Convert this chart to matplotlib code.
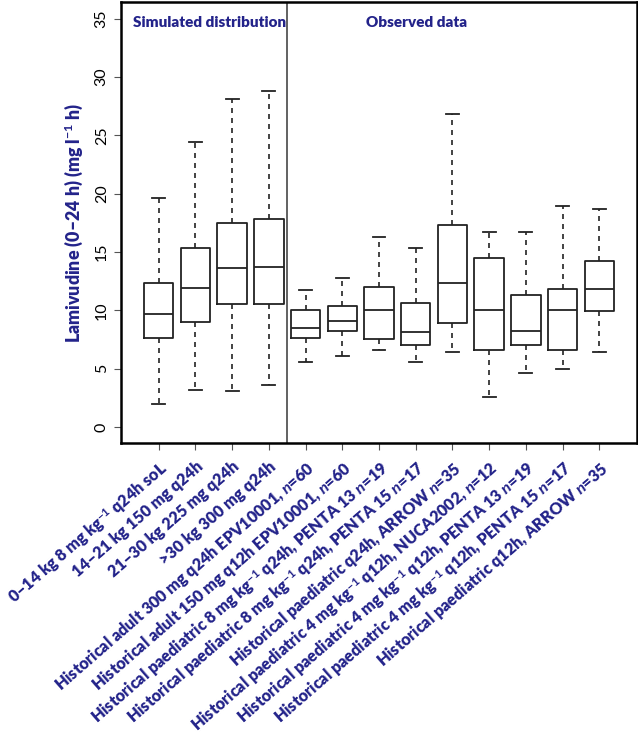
import numpy as np
import matplotlib
matplotlib.use("Agg")
import matplotlib.pyplot as plt

plt.rcParams['font.family'] = ['Lato', 'DejaVu Sans']
plt.rcParams['mathtext.fontset'] = 'custom'
plt.rcParams['mathtext.rm'] = 'Lato:bold'
plt.rcParams['mathtext.it'] = 'Lato:italic:bold'
plt.rcParams['mathtext.bf'] = 'Lato:bold'

labels = [
    "0\u201314 kg 8 mg kg$^{-1}$ q24h soL",
    "14\u201321 kg 150 mg q24h",
    "21\u201330 kg 225 mg q24h",
    ">30 kg 300 mg q24h",
    "Historical adult 300 mg q24h EPV10001, $n$=60",
    "Historical adult 150 mg q12h EPV10001, $n$=60",
    "Historical paediatric 8 mg kg$^{-1}$ q24h, PENTA 13 $n$=19",
    "Historical paediatric 8 mg kg$^{-1}$ q24h, PENTA 15 $n$=17",
    "Historical paediatric q24h, ARROW $n$=35",
    "Historical paediatric 4 mg kg$^{-1}$ q12h, NUCA2002, $n$=12",
    "Historical paediatric 4 mg kg$^{-1}$ q12h, PENTA 13 $n$=19",
    "Historical paediatric 4 mg kg$^{-1}$ q12h, PENTA 15 $n$=17",
    "Historical paediatric q12h, ARROW $n$=35",
]
whislo = [2.0, 3.2, 3.1, 3.6, 5.6, 6.1, 6.6, 5.6, 6.4, 2.6, 4.6, 5.0, 6.4]
q1 = [7.6, 9.0, 10.5, 10.5, 7.6, 8.2, 7.5, 7.0, 8.9, 6.6, 7.0, 6.6, 9.9]
med = [9.7, 11.9, 13.6, 13.7, 8.5, 9.1, 10.0, 8.1, 12.3, 10.0, 8.2, 10.0, 11.8]
q3 = [12.3, 15.3, 17.5, 17.8, 10.0, 10.4, 12.0, 10.6, 17.3, 14.5, 11.3, 11.8, 14.2]
whishi = [19.6, 24.4, 28.1, 28.8, 11.7, 12.8, 16.3, 15.3, 26.8, 16.7, 16.7, 18.9, 18.7]

blue = '#23238a'

stats = []
for i in range(len(labels)):
    stats.append(dict(whislo=whislo[i], q1=q1[i], med=med[i], q3=q3[i],
                      whishi=whishi[i], fliers=[]))

fig = plt.figure(figsize=(6.38, 7.45), dpi=100)
ax = fig.add_axes([0.19, 0.405, 0.808, 0.592])

pos = np.arange(1, len(labels) + 1)
ax.bxp(stats, positions=pos, widths=0.8, showfliers=False,
       boxprops=dict(color='#222222', linewidth=1.3),
       medianprops=dict(color='#222222', linewidth=1.3),
       whiskerprops=dict(color='#222222', linewidth=1.2, linestyle=(0, (3, 3))),
       capprops=dict(color='#222222', linewidth=1.3),
       capwidths=0.35)

ax.axvline(4.5, color='#555555', linewidth=1.3)
ax.set_xlim(-0.02, 14.02)
ax.set_ylim(-1.4, 36.4)

ax.set_yticks([0, 5, 10, 15, 20, 25, 30, 35])
ax.set_yticklabels(['0', '5', '10', '15', '20', '25', '30', '35'],
                   rotation=90, va='center', fontsize=11.5)
ax.set_xticks(pos)
ax.set_xticklabels(labels, rotation=41, ha='right', rotation_mode='anchor',
                   fontsize=11.6, fontweight='heavy', color=blue)
ax.tick_params(axis='both', direction='out', length=5, color='#555555')
ax.tick_params(axis='y', pad=4)
ax.tick_params(axis='x', pad=6)

for s in ax.spines.values():
    s.set_linewidth(1.8)

ax.set_ylabel("Lamivudine (0\u201324 h) (mg l$^{-1}$ h)", color=blue,
              fontsize=12.8, fontweight='heavy', labelpad=6)

ax.text(0.3, 34.7, "Simulated distribution", color=blue, fontsize=11,
        fontweight='heavy', va='center')
ax.text(6.65, 34.7, "Observed data", color=blue, fontsize=11,
        fontweight='heavy', va='center')

fig.savefig("out.png", dpi=100)
